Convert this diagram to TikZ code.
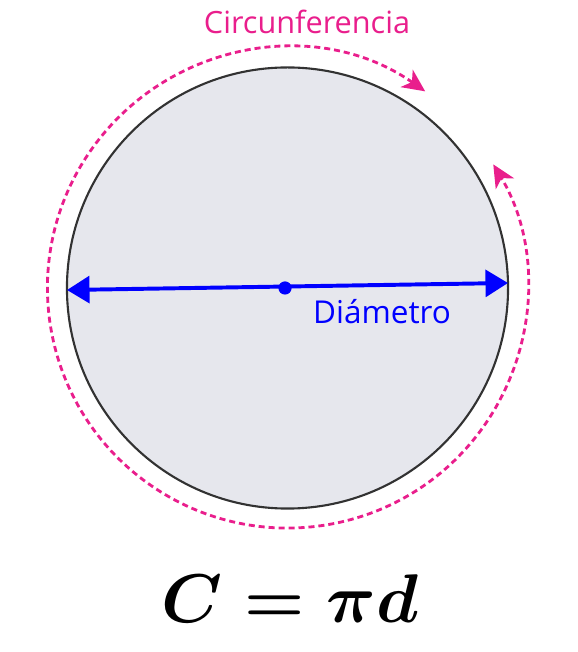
\documentclass[tikz,border=0pt]{standalone}
\usepackage{fix-cm}
\usepackage{amsmath}
\usepackage{fontspec}
\usetikzlibrary{arrows.meta}
\newfontfamily\labelfont{Open Sans}
\definecolor{dpink}{RGB}{233,30,140}
\definecolor{dblue}{RGB}{0,0,255}
\definecolor{cfill}{RGB}{230,231,237}
\definecolor{cline}{RGB}{50,50,50}
\newcommand{\formulasize}{\fontsize{49}{58}\selectfont}
\newcommand{\circsize}{\labelfont\fontsize{21.8}{26}\selectfont}
\newcommand{\diamsize}{\labelfont\fontsize{22.4}{26}\selectfont}

\begin{document}
\begin{tikzpicture}[x=0.025cm, y=0.025cm,
    diam/.style={dblue, line width=2.8pt,
        {Triangle[length=16pt,width=19pt]}-{Triangle[length=16pt,width=19pt]}},
    circum/.style={dpink, line width=2pt, dash pattern=on 4.3pt off 2.8pt,
        {Stealth[length=16pt,width=15pt,inset=4.5pt]}-{Stealth[length=16pt,width=15pt,inset=4.5pt]}}]
\useasboundingbox (0,0) rectangle (578,652);
\coordinate (o) at (287.5,364);
\node[circle, draw=cline, line width=1.5pt, fill=cfill, inner sep=0pt,
    minimum size=11.025cm] (circ) at (o) {};
\draw[circum] ([shift={(55:6cm)}]o) arc[start angle=55, end angle=391, radius=6cm];
\coordinate (dl) at (67,362);
\coordinate (dr) at (508,369);
\draw[diam] (dl) -- (dr);
\node[circle, fill=dblue, inner sep=0pt, minimum size=0.33cm] (ctr) at (285,364) {};
\node[dblue, font=\diamsize] (dlabel) at (382,340) {Diámetro};
\node[dpink, font=\circsize] (clabel) at (307,630) {Circunferencia};
\node[anchor=base, font=\formulasize] (formula) at (290,29) {\(\boldsymbol{C=\pi d}\)};
\end{tikzpicture}
\end{document}
